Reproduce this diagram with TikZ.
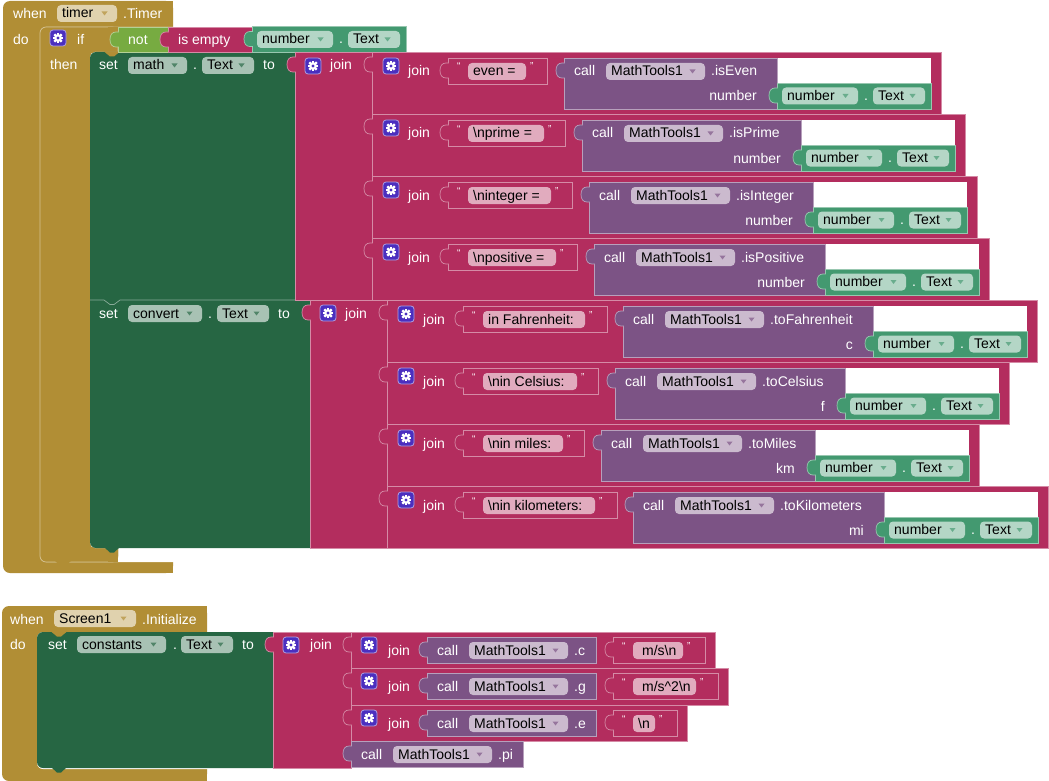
\documentclass[tikz,border=0pt]{standalone}
\usepackage{fontspec}
\setmainfont{Liberation Sans}
\usetikzlibrary{calc}

\definecolor{ctrl}{HTML}{B18E35}
\definecolor{logic}{HTML}{77AB41}
\definecolor{txt}{HTML}{B32D5E}
\definecolor{setc}{HTML}{266643}
\definecolor{getc}{HTML}{439970}
\definecolor{meth}{HTML}{7C5385}
\definecolor{gearc}{HTML}{4B2FBF}

\newcounter{nid}
\tikzset{
  lbl/.style={anchor=base west, inner sep=0pt, text=white, font=\fontsize{14}{16}\selectfont},
  lblr/.style={lbl, anchor=base east},
  ptxt/.style={lbl, text=black},
  qt/.style={anchor=base west, inner sep=0pt, text=white, font=\fontsize{10}{12}\selectfont},
  blk/.style={fill=#1, draw=#1!55!white, line width=0.7pt},
}

% white label on a block
\newcommand\bkLabel[3]{\stepcounter{nid}\node[lbl] (n\arabic{nid}) at (#1,#2) {#3};}
\newcommand\bkLabelR[3]{\stepcounter{nid}\node[lblr] (n\arabic{nid}) at (#1,#2) {#3};}
% field pill: x, top, width, text, block colour
\newcommand\bkPill[5]{%
  \fill[#5!40!white, rounded corners=4pt] (#1,#2) rectangle (#1+#3,#2+17);
  \stepcounter{nid}\node[ptxt] (n\arabic{nid}) at (#1+5,#2+13) {#4};}
% dropdown pill with its arrow
\newcommand\bkDrop[5]{\bkPill{#1}{#2}{#3}{#4}{#5}%
  \fill[#5!80!white] (#1+#3-15.5,#2+6.5) -- ++(6,0) -- ++(-3,4) -- cycle;}
% output tab on the left edge of a value block
\newcommand\bkTab[3]{%
  \path[fill=#3, draw=#3!55!white, line width=0.7pt] (#1+0.8,#2+5) -- (#1-2,#2+5)
    .. controls (#1-6,#2+5) and (#1-8,#2+8) .. (#1-8,#2+12.5)
    .. controls (#1-8,#2+17) and (#1-6,#2+20) .. (#1-2,#2+20) -- (#1+0.8,#2+20);}
% value block: x1, y1, x2, y2, colour
\newcommand\bkBox[5]{%
  \path[blk=#5] (#1,#2) rectangle (#3,#4);
  \bkTab{#1}{#2}{#5}}
% mutator gear icon
\newcommand\bkGear[2]{%
  \path[fill=gearc, draw=gearc!45!white, line width=0.8pt, rounded corners=3pt] (#1,#2) rectangle (#1+16,#2+16);
  \foreach \ga in {0,45,90,135} {\fill[white, rotate around={\ga:(#1+8,#2+8)}] (#1+6.9,#2+2.7) rectangle (#1+9.1,#2+13.3);}
  \fill[white] (#1+8,#2+8) circle (3.9);
  \fill[gearc] (#1+8,#2+8) circle (1.6);}
% number.Text getter
\newcommand\bkGetter[2]{%
  \bkBox{#1}{#2}{#1+154}{#2+26}{getc}
  \bkDrop{#1+5}{#2+4.5}{76}{number}{getc}
  \bkLabel{#1+87}{#2+17.5}{.}
  \bkDrop{#1+96}{#2+4.5}{52}{Text}{getc}}
% MathTools1 method call: x1, top, x2, bottom, method
\newcommand\bkCall[5]{%
  \bkBox{#1}{#2}{#3}{#4}{meth}
  \bkLabel{#1+10}{#2+18}{call}
  \bkDrop{#1+42}{#2+5}{99}{MathTools1}{meth}
  \bkLabel{#1+147}{#2+18}{#5}}
% text string: x1, top, x2, pill width, text
\newcommand\bkStr[5]{%
  \bkBox{#1}{#2}{#3}{#2+26}{txt}
  \stepcounter{nid}\node[qt] (n\arabic{nid}) at (#1+9,#2+12) {“};
  \bkPill{#1+20}{#2+5}{#4}{#5}{txt}
  \stepcounter{nid}\node[qt] (n\arabic{nid}) at (#1+20+#4+4,#2+12) {”};}
% join of a label string and a method call with one argument
\newcommand\bkRow[9]{%
  \bkBox{#1}{#2}{#7+164}{#2+62}{txt}
  \bkGear{#1+11}{#2+6}
  \bkLabel{#1+36}{#2+24}{join}
  \bkStr{#1+76}{#2+6}{#3}{#4}{#5}
  \fill[white] (#7,#2+6) rectangle (#7+154,#2+31);
  \bkCall{#6}{#2+6}{#7}{#2+57}{#8}
  \bkLabelR{#7-20}{#2+49}{#9}
  \bkGetter{#7}{#2+31}}
% join of a constant and its unit string
\newcommand\bkSRow[6]{%
  \bkBox{351}{#1}{#3}{#2}{txt}
  \bkGear{361}{#1+5}
  \bkLabel{388}{#1+23}{join}
  \bkCall{427}{#1+5}{596}{#1+31}{#6}
  \bkStr{613}{#1+5}{#3-10}{#4}{#5}}

\begin{document}
\begin{tikzpicture}[x=1pt,y=-1pt]
\useasboundingbox (0,0) rectangle (1049,781);
\fill[white] (0,0) rectangle (1049,781);

% ---------- when timer.Timer ----------
\fill[ctrl, rounded corners=7pt] (3,1) rectangle (173,573);
\fill[ctrl] (163,1) rectangle (173,27);
\fill[ctrl] (163,562) rectangle (173,573);
\fill[white, rounded corners=6pt] (40,27) rectangle (185,562);
\bkLabel{13}{19}{when}
\bkDrop{57}{5}{60}{timer}{ctrl}
\bkLabel{123}{19}{.Timer}
\bkLabel{13}{45}{do}

% if block
\path[fill=ctrl, draw=ctrl!55!white, line width=0.7pt, rounded corners=6pt] (40,27) rectangle (118,562);
\fill[ctrl] (108,27.4) rectangle (118.4,40);
\fill[ctrl] (108,550) rectangle (118.4,561.6);
\fill[white, rounded corners=5pt] (90,52) rectangle (130,548);
\fill[ctrl] (55,561) -- (61,566) -- (65,566) -- (71,561) -- cycle;
\bkGear{50}{30}
\bkLabel{77}{45}{if}
\bkLabel{50}{70}{then}

% set statements
\path[fill=setc, rounded corners=6pt] (90,290) rectangle (320,548);
\path[fill=setc, rounded corners=6pt] (90,52) rectangle (320,300);
\draw[setc!55!white, line width=0.7pt] (90,300) -- (104,300) -- (110,304.5) -- (114,304.5) -- (120,300) -- (310,300);
\fill[ctrl] (104,51.5) -- (110,56.5) -- (114,56.5) -- (120,51.5) -- cycle;
\fill[setc] (104,547) -- (110,552.5) -- (114,552.5) -- (120,547) -- cycle;

% condition: not is empty number.Text
\bkBox{118}{27}{168}{52}{logic}
\bkLabel{128}{45}{not}
\bkBox{168}{27}{252}{52}{txt}
\bkLabel{178}{45}{is empty}
\bkGetter{252}{26.5}

% set math.Text
\bkLabel{99}{70}{set}
\bkDrop{128}{57}{59}{math}{setc}
\bkLabel{193}{70}{.}
\bkDrop{202}{57}{52}{Text}{setc}
\bkLabel{263}{70}{to}
\bkBox{295}{52}{372}{300}{txt}
\bkGear{305}{58}
\bkLabel{330}{70}{join}
\bkRow{372}{52}{547}{58}{even = }{564}{777}{.isEven}{number}
\bkRow{372}{114}{565}{76}{\textbackslash nprime = }{582}{801}{.isPrime}{number}
\bkRow{372}{176}{572}{83}{\textbackslash ninteger = }{589}{813}{.isInteger}{number}
\bkRow{372}{238}{577}{88}{\textbackslash npositive = }{594}{825}{.isPositive}{number}

% set convert.Text
\bkLabel{99}{318}{set}
\bkDrop{128}{305}{74}{convert}{setc}
\bkLabel{208}{318}{.}
\bkDrop{217}{305}{52}{Text}{setc}
\bkLabel{278}{318}{to}
\bkBox{310}{300}{387}{548}{txt}
\bkGear{320}{305}
\bkLabel{345}{318}{join}
\bkRow{387}{300}{607}{102}{in Fahrenheit: }{623}{873}{.toFahrenheit}{c}
\bkRow{387}{362}{598}{94}{\textbackslash nin Celsius: }{615}{845}{.toCelsius}{f}
\bkRow{387}{424}{584}{80}{\textbackslash nin miles: }{601}{815}{.toMiles}{km}
\bkRow{387}{486}{617}{112}{\textbackslash nin kilometers: }{633}{884}{.toKilometers}{mi}

% ---------- when Screen1.Initialize ----------
\fill[ctrl, rounded corners=7pt] (2,606) rectangle (207,781);
\fill[ctrl] (197,606) rectangle (207,632);
\fill[ctrl] (197,769) rectangle (207,781);
\fill[white, rounded corners=6pt] (37,632) rectangle (215,769);
\bkLabel{10}{624}{when}
\bkDrop{54}{610}{82}{Screen1}{ctrl}
\bkLabel{142}{624}{.Initialize}
\bkLabel{10}{649}{do}

\path[fill=setc, rounded corners=6pt] (37,632) rectangle (280,768);
\fill[ctrl] (51,631.5) -- (57,636.5) -- (61,636.5) -- (67,631.5) -- cycle;
\fill[setc] (51,767) -- (57,772.5) -- (61,772.5) -- (67,767) -- cycle;
\bkLabel{48}{649}{set}
\bkDrop{77}{636}{89}{constants}{setc}
\bkLabel{173}{649}{.}
\bkDrop{181}{636}{52}{Text}{setc}
\bkLabel{242}{649}{to}

\bkBox{273}{632}{351}{768}{txt}
\bkGear{283}{637}
\bkLabel{310}{649}{join}
\bkSRow{632}{668}{715}{50}{\ m/s\textbackslash n}{.c}
\bkSRow{668}{705}{728}{63}{\ m/s\textasciicircum 2\textbackslash n}{.g}
\bkSRow{705}{741}{687}{22}{\textbackslash n}{.e}
\bkCall{351}{741}{523}{767}{.pi}
\end{tikzpicture}
\end{document}
